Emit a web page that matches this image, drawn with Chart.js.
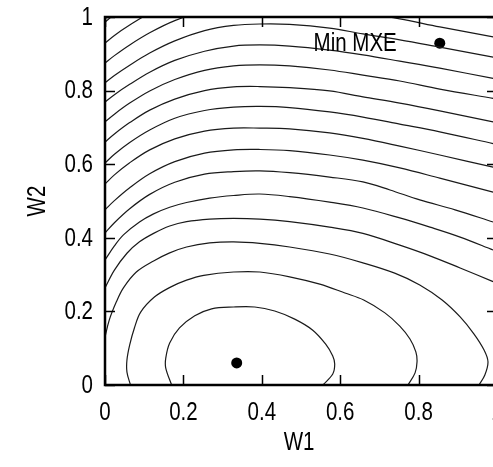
<!DOCTYPE html>
<html>
<head>
<meta charset="utf-8">
<script src="https://cdn.jsdelivr.net/npm/chart.js@4/dist/chart.umd.min.js"></script>
<style>
  html, body { margin: 0; padding: 0; background: #fff; overflow: hidden; width: 493px; height: 467px; }
  #wrap { position: relative; width: 520px; height: 467px; }
</style>
</head>
<body>
<div id="wrap"><canvas id="c" width="520" height="467"></canvas></div>
<script>
// Axis ticks and labels
const xTickValues = [0, 0.2, 0.4, 0.6, 0.8, 1];
const xTickLabels = ['0', '0.2', '0.4', '0.6', '0.8', '1'];
const yTickValues = [0, 0.2, 0.4, 0.6, 0.8, 1];
const yTickLabels = ['0', '0.2', '0.4', '0.6', '0.8', '1'];
const xTitle = 'W1';
const yTitle = 'W2';

// Marked points (W1, W2) and their captions
const markerW1 = [0.336, 0.854];
const markerW2 = [0.060, 0.929];
const markerLabels = ['', 'Min MXE'];

// Contour lines of the error surface, innermost first, as [W1, W2] pairs
const contour01 = [[0.170,0],[0.155,0.046],[0.155,0.073],[0.165,0.114],[0.190,0.155],[0.229,0.188],[0.272,0.207],[0.328,0.212],[0.382,0.212],[0.433,0.201],[0.484,0.179],[0.530,0.149],[0.563,0.111],[0.581,0.079],[0.586,0.057],[0.581,0.030],[0.556,0]];
const contour02 = [[0.065,0],[0.056,0.035],[0.056,0.068],[0.063,0.109],[0.075,0.155],[0.091,0.198],[0.126,0.239],[0.167,0.266],[0.208,0.285],[0.252,0.298],[0.328,0.307],[0.395,0.307],[0.471,0.294],[0.548,0.274],[0.612,0.250],[0.660,0.231],[0.714,0.196],[0.752,0.160],[0.778,0.125],[0.793,0.090],[0.796,0.063],[0.791,0.033],[0.773,0]];
const contour03 = [[0,0.130],[0.011,0.177],[0.029,0.226],[0.047,0.264],[0.080,0.307],[0.124,0.337],[0.165,0.359],[0.208,0.375],[0.267,0.386],[0.328,0.389],[0.395,0.385],[0.471,0.375],[0.573,0.356],[0.658,0.332],[0.739,0.304],[0.803,0.272],[0.860,0.231],[0.906,0.185],[0.941,0.139],[0.967,0.095],[0.977,0.063],[0.969,0.027],[0.954,0]];
const contour04 = [[0,0.264],[0.024,0.312],[0.056,0.358],[0.088,0.389],[0.124,0.412],[0.165,0.432],[0.208,0.444],[0.267,0.451],[0.328,0.453],[0.395,0.451],[0.471,0.444],[0.573,0.429],[0.658,0.412],[0.752,0.380],[0.829,0.351],[0.906,0.318],[0.990,0.281]];
const contour05 = [[0,0.340],[0.024,0.378],[0.047,0.408],[0.088,0.443],[0.124,0.465],[0.165,0.483],[0.208,0.496],[0.267,0.508],[0.328,0.515],[0.395,0.519],[0.471,0.512],[0.573,0.497],[0.658,0.481],[0.752,0.454],[0.829,0.429],[0.906,0.402],[0.990,0.367]];
const contour06 = [[0,0.413],[0.024,0.441],[0.063,0.479],[0.114,0.518],[0.178,0.551],[0.254,0.573],[0.328,0.580],[0.395,0.582],[0.471,0.577],[0.573,0.565],[0.658,0.552],[0.727,0.530],[0.803,0.503],[0.893,0.476],[0.990,0.443]];
const contour07 = [[0,0.476],[0.024,0.501],[0.063,0.536],[0.114,0.574],[0.178,0.607],[0.254,0.630],[0.328,0.639],[0.395,0.640],[0.471,0.637],[0.573,0.625],[0.658,0.611],[0.752,0.590],[0.854,0.562],[0.990,0.524]];
const contour08 = [[0,0.546],[0.024,0.571],[0.063,0.604],[0.114,0.639],[0.178,0.669],[0.254,0.690],[0.328,0.698],[0.395,0.698],[0.471,0.696],[0.573,0.685],[0.658,0.670],[0.752,0.649],[0.854,0.625],[0.990,0.592]];
const contour09 = [[0,0.603],[0.024,0.627],[0.063,0.659],[0.114,0.693],[0.178,0.725],[0.254,0.746],[0.328,0.755],[0.395,0.757],[0.471,0.754],[0.573,0.742],[0.658,0.728],[0.752,0.709],[0.854,0.688],[0.990,0.656]];
const contour10 = [[0,0.660],[0.024,0.682],[0.063,0.713],[0.114,0.747],[0.178,0.777],[0.254,0.800],[0.328,0.810],[0.395,0.811],[0.471,0.808],[0.573,0.799],[0.658,0.783],[0.752,0.766],[0.854,0.745],[0.990,0.715]];
const contour11 = [[0,0.715],[0.024,0.736],[0.063,0.766],[0.114,0.799],[0.178,0.830],[0.254,0.855],[0.328,0.867],[0.395,0.870],[0.471,0.867],[0.573,0.856],[0.658,0.842],[0.752,0.826],[0.854,0.804],[0.990,0.779]];
const contour12 = [[0,0.769],[0.024,0.789],[0.063,0.817],[0.114,0.850],[0.178,0.882],[0.254,0.907],[0.328,0.921],[0.395,0.924],[0.471,0.921],[0.573,0.910],[0.658,0.897],[0.752,0.880],[0.854,0.861],[0.990,0.833]];
const contour13 = [[0,0.821],[0.024,0.841],[0.063,0.869],[0.114,0.902],[0.178,0.935],[0.254,0.963],[0.328,0.977],[0.395,0.981],[0.471,0.980],[0.573,0.970],[0.658,0.954],[0.752,0.938],[0.854,0.918],[0.990,0.891]];
const contour14 = [[0,0.875],[0.024,0.895],[0.063,0.924],[0.114,0.957],[0.178,0.990],[0.254,1.017],[0.328,1.032],[0.395,1.035],[0.471,1.034],[0.573,1.025],[0.658,1.011],[0.752,0.995],[0.854,0.973],[0.990,0.946]];
const contour15 = [[0,0.929],[0.024,0.950],[0.063,0.978],[0.114,1.011],[0.178,1.044]];
const contour16 = [[0,0.986],[0.024,1.007],[0.063,1.035]];

const contours = [contour01, contour02, contour03, contour04, contour05, contour06, contour07, contour08,
                  contour09, contour10, contour11, contour12, contour13, contour14, contour15, contour16];

const FONT = "'Liberation Sans', Arial, sans-serif";
const FONT_SIZE = 25;
const NARROW = 0.82;      // horizontal squeeze for a narrow typeface
const TICK_LEN = 10;

// Text drawn in a condensed style (optionally rotated for the vertical title)
function narrowText(ctx, text, x, y, align, rotated) {
  ctx.save();
  ctx.translate(x, y);
  if (rotated) ctx.rotate(-Math.PI / 2);
  ctx.scale(NARROW, 1);
  ctx.font = FONT_SIZE + 'px ' + FONT;
  ctx.fillStyle = '#000';
  ctx.textAlign = align;
  ctx.textBaseline = 'middle';
  ctx.fillText(text, 0, 0);
  ctx.restore();
}

// Frame, inward tick marks on all four sides, axis labels and the point caption
const framePlugin = {
  id: 'frame',
  afterDatasetsDraw(chart) {
    const { ctx, chartArea: a, scales: { x, y } } = chart;
    ctx.save();
    ctx.strokeStyle = '#000';
    ctx.lineWidth = 1.5;
    ctx.beginPath();
    x.ticks.forEach(t => {
      const px = Math.round(x.getPixelForValue(t.value)) + 0.5;
      ctx.moveTo(px, a.bottom); ctx.lineTo(px, a.bottom - TICK_LEN);
      ctx.moveTo(px, a.top); ctx.lineTo(px, a.top + TICK_LEN);
    });
    y.ticks.forEach(t => {
      const py = Math.round(y.getPixelForValue(t.value)) + 0.5;
      ctx.moveTo(a.left, py); ctx.lineTo(a.left + TICK_LEN, py);
      ctx.moveTo(a.right, py); ctx.lineTo(a.right - TICK_LEN, py);
    });
    ctx.stroke();
    ctx.lineWidth = 2.5;
    ctx.strokeRect(a.left, a.top, a.right - a.left, a.bottom - a.top);
    ctx.restore();

    x.ticks.forEach((t, i) => narrowText(ctx, xTickLabels[i], x.getPixelForValue(t.value), a.bottom + 28, 'center'));
    y.ticks.forEach((t, i) => narrowText(ctx, yTickLabels[i], a.left - 12, y.getPixelForValue(t.value) + 1, 'right'));
    narrowText(ctx, xTitle, (a.left + a.right) / 2 - 2, 443, 'center');
    narrowText(ctx, yTitle, 38, (a.top + a.bottom) / 2, 'center', true);

    markerLabels.forEach((t, i) => {
      if (!t) return;
      narrowText(ctx, t, x.getPixelForValue(markerW1[i]) - 43, y.getPixelForValue(markerW2[i]) + 1, 'right');
    });
  }
};

const datasets = contours.map(line => ({
  type: 'scatter',
  data: line.map(p => ({ x: p[0], y: p[1] })),
  showLine: true,
  borderColor: '#1a1a1a',
  borderWidth: 1.2,
  pointRadius: 0,
  tension: 0.35,
  fill: false,
  clip: 0
}));

datasets.push({
  type: 'scatter',
  data: markerW1.map((v, i) => ({ x: v, y: markerW2[i] })),
  showLine: false,
  pointRadius: 5.5,
  pointStyle: 'circle',
  backgroundColor: '#000',
  borderColor: '#000',
  borderWidth: 0
});

new Chart(document.getElementById('c'), {
  type: 'scatter',
  data: { datasets },
  options: {
    responsive: false,
    animation: false,
    devicePixelRatio: 1,
    layout: { padding: { top: 17, right: 23, left: 0, bottom: 0 } },
    plugins: { legend: { display: false }, tooltip: { enabled: false } },
    events: [],
    scales: {
      x: {
        type: 'linear',
        min: 0, max: 1,
        afterBuildTicks(scale) { scale.ticks = xTickValues.map(v => ({ value: v })); },
        afterFit(scale) { scale.height = 82; },
        grid: { display: false, drawTicks: false },
        border: { display: false },
        ticks: { display: false }
      },
      y: {
        type: 'linear',
        min: 0, max: 1,
        afterBuildTicks(scale) { scale.ticks = yTickValues.map(v => ({ value: v })); },
        afterFit(scale) { scale.width = 105; },
        grid: { display: false, drawTicks: false },
        border: { display: false },
        ticks: { display: false }
      }
    }
  },
  plugins: [framePlugin]
});
</script>
</body>
</html>
